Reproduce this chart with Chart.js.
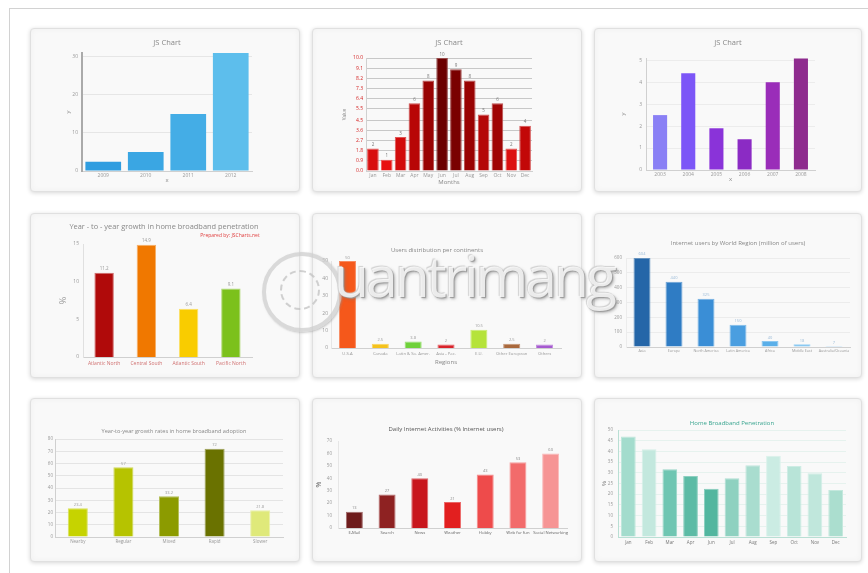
<!DOCTYPE html>
<html lang="en">
<head>
<meta charset="UTF-8">
<title>Bar charts</title>
<script src="https://cdn.jsdelivr.net/npm/chart.js"></script>
<style>
    body {
        margin: 0;
        background: #fff;
        font-family: 'Open Sans', Arial, sans-serif;
        width: 868px;
        height: 573px;
        overflow: hidden;
        position: relative;
    }
    .frame {
        position: absolute;
        left: 9px; top: 8px;
        width: 900px; height: 600px;
        border-left: 1px solid #d2d2d2;
        border-top: 1px solid #d2d2d2;
    }
    .card {
        position: absolute;
        background: #f9f9f9;
        border: 1px solid #e0e0e0;
        border-radius: 4px;
        box-shadow: 0 1px 4px rgba(0,0,0,0.16), inset 0 0 6px rgba(0,0,0,0.04);
        box-sizing: border-box;
        overflow: hidden;
    }
    .card canvas { position: absolute; left: 0; top: 0; }
    .ttl {
        position: absolute;
        white-space: nowrap;
        transform: translateX(-50%);
        color: #888;
    }
    .mark {
        position: absolute;
        pointer-events: none;
    }
    .mark .ring {
        position: absolute;
        left: 262px; top: 252px;
        width: 72px; height: 72px;
        border-radius: 50%;
        border: 4px solid rgba(205,205,205,0.75);
        box-shadow: 1px 1px 2px rgba(150,150,150,0.5);
    }
    .mark .ring2 {
        position: absolute;
        left: 280px; top: 270px;
        width: 36px; height: 36px;
        border-radius: 50%;
        border: 2px dashed rgba(190,190,190,0.7);
    }
    .mark .word {
        position: absolute;
        left: 334px; top: 236px;
        font-size: 57px;
        letter-spacing: -3px;
        color: rgba(255,255,255,0.8);
        text-shadow: 1px 1px 1px #9a9a9a, -1px -1px 1px #d0d0d0, 2px 2px 3px rgba(120,120,120,0.5);
    }
</style>
</head>
<body>
<div class="frame"></div>

<div class="card" id="c1" style="left:30px;top:28px;width:270px;height:164px"></div>
<div class="card" id="c2" style="left:312px;top:28px;width:270px;height:164px"></div>
<div class="card" id="c3" style="left:594px;top:28px;width:268px;height:164px"></div>
<div class="card" id="c4" style="left:30px;top:213px;width:270px;height:165px"></div>
<div class="card" id="c5" style="left:312px;top:213px;width:270px;height:165px"></div>
<div class="card" id="c6" style="left:594px;top:213px;width:268px;height:165px"></div>
<div class="card" id="c7" style="left:30px;top:398px;width:270px;height:164px"></div>
<div class="card" id="c8" style="left:312px;top:398px;width:270px;height:164px"></div>
<div class="card" id="c9" style="left:594px;top:398px;width:268px;height:164px"></div>

<div class="mark">
    <div class="ring"></div>
    <div class="ring2"></div>
    <div class="word">uantrimang</div>
</div>

<script>
    // ---- data ----
    const labels1 = ['2009', '2010', '2011', '2012'];
    const values1 = [2.4, 5, 15, 31];
    const ticks1 = [0, 10, 20, 30];

    const months2 = ['Jan', 'Feb', 'Mar', 'Apr', 'May', 'Jun', 'Jul', 'Aug', 'Sep', 'Oct', 'Nov', 'Dec'];
    const values2 = [2, 1, 3, 6, 8, 10, 9, 8, 5, 6, 2, 4];
    const ticks2 = [0, 0.9, 1.8, 2.7, 3.6, 4.5, 5.5, 6.4, 7.3, 8.2, 9.1, 10];

    const labels3 = ['2003', '2004', '2005', '2006', '2007', '2008'];
    const values3 = [2.5, 4.4, 1.9, 1.4, 4, 5.08];
    const ticks3 = [0, 1, 2, 3, 4, 5];

    const regions4 = ['Atlantic North', 'Central South', 'Atlantic South', 'Pacific North'];
    const values4 = [11.2, 14.9, 6.4, 9.1];
    const ticks4 = [0, 5, 10, 15];

    const regions5 = ['U.S.A', 'Canada', 'Latin & So. Amer.', 'Asia - Pac.', 'E.U.', 'Other European', 'Others'];
    const values5 = [50, 2.5, 3.8, 2, 10.5, 2.5, 2];
    const ticks5 = [0, 10, 20, 30, 40, 50];

    const regions6 = ['Asia', 'Europe', 'North America', 'Latin America', 'Africa', 'Middle East', 'Australia/Oceania'];
    const values6 = [604, 440, 325, 150, 40, 18, 7];
    const ticks6 = [0, 100, 200, 300, 400, 500, 600];

    const groups7 = ['Nearby', 'Regular', 'Mixed', 'Rapid', 'Slower'];
    const values7 = [23.4, 57, 33.2, 72, 21.8];
    const ticks7 = [0, 10, 20, 30, 40, 50, 60, 70, 80];

    const activities8 = ['E-Mail', 'Search', 'News', 'Weather', 'Hobby', 'Web for fun', 'Social Networking'];
    const values8 = [13, 27, 40, 21, 43, 53, 60];
    const ticks8 = [0, 10, 20, 30, 40, 50, 60, 70];

    const months9 = ['Jan', 'Feb', 'Mar', 'Apr', 'Jun', 'Jul', 'Aug', 'Sep', 'Oct', 'Nov', 'Dec'];
    const values9 = [47, 41, 31.7, 28.5, 22.5, 27.5, 33.5, 38, 33.2, 29.8, 22];
    const ticks9 = [0, 5, 10, 15, 20, 25, 30, 35, 40, 45, 50];

    // ---- colours ----
    const colors1 = ['#2f9de0', '#3aa6e3', '#44ade6', '#5dbeec'];
    const colors2 = ['#d80f0f', '#e81111', '#d20c0c', '#b80606', '#990303', '#6c0000', '#7a0000', '#990303', '#b40808', '#a00505', '#dc1010', '#c20808'];
    const colors3 = ['#8a80f5', '#7c56f7', '#8a33d9', '#8b2bc4', '#9a2db9', '#8e2b8e'];
    const colors4 = ['#b00a0a', '#f07800', '#f9cc00', '#7cc11c'];
    const colors5 = ['#f5581b', '#f5c21b', '#6fd13a', '#d9232a', '#b5e33a', '#a9683c', '#a65ad0'];
    const colors6 = ['#2566a8', '#2f7cc4', '#3a8ed6', '#4a9ee0', '#5aafe9', '#6ebdf0', '#86c9f3'];
    const colors7 = ['#c6d300', '#b6c300', '#8c9b00', '#6a7200', '#dfe97a'];
    const colors8 = ['#6e1c1c', '#8e2222', '#c8161d', '#e21f1f', '#ee4b4b', '#f26b6b', '#f69494'];
    const colors9 = ['#a3dccd', '#c3e8de', '#6fc6b2', '#5cbba5', '#52b69f', '#8ed1c0', '#a9ddcf', '#cbece3', '#b8e4d8', '#c0e7dc', '#abdecf'];

    const FONT = "'Open Sans', Arial, sans-serif";
    Chart.defaults.font.family = FONT;
    Chart.defaults.font.size = 5.5;
    Chart.defaults.color = '#999';

    function lighten(hex, k) {
        const n = parseInt(hex.slice(1), 16);
        const ch = [n >> 16, (n >> 8) & 255, n & 255].map(c => Math.round(c + (255 - c) * k));
        return `rgb(${ch.join(',')})`;
    }

    // small value text above each bar
    const valueLabels = {
        id: 'valueLabels',
        afterDatasetsDraw(chart, args, opts) {
            if (!opts.show) return;
            const ctx = chart.ctx;
            const ds = chart.data.datasets[0];
            ctx.save();
            ctx.font = `${opts.size || 5}px ${FONT}`;
            ctx.fillStyle = opts.color || '#888';
            ctx.textAlign = 'center';
            ctx.textBaseline = 'bottom';
            chart.getDatasetMeta(0).data.forEach((bar, i) => {
                ctx.fillText(ds.data[i], bar.x, bar.y - 1.5);
            });
            ctx.restore();
        }
    };

    function addTitle(card, t) {
        const d = document.createElement('div');
        d.className = 'ttl';
        d.textContent = t.text;
        d.style.left = t.x + 'px';
        d.style.top = (t.y - t.size * 0.6) + 'px';
        d.style.fontSize = t.size + 'px';
        d.style.lineHeight = (t.size * 1.2) + 'px';
        if (t.color) d.style.color = t.color;
        card.appendChild(d);
    }

    function drawBars(id, p) {
        const card = document.getElementById(id);
        const W = card.clientWidth, H = card.clientHeight;
        const cv = document.createElement('canvas');
        cv.width = W; cv.height = H;
        card.appendChild(cv);
        (p.titles || []).forEach(t => addTitle(card, t));
        const a = p.area;
        new Chart(cv, {
            type: 'bar',
            data: {
                labels: p.labels,
                datasets: [{
                    data: p.values,
                    backgroundColor: p.colors,
                    borderColor: p.colors.map(c => lighten(c, p.borderLight ?? 0.35)),
                    borderWidth: p.bw ?? 1,
                    borderSkipped: 'bottom',
                    barPercentage: p.bar,
                    categoryPercentage: 1
                }]
            },
            options: {
                responsive: false,
                animation: false,
                events: [],
                layout: { padding: { left: 0, top: a.t, right: W - a.r, bottom: 0 } },
                plugins: {
                    legend: { display: false },
                    tooltip: { enabled: false },
                    valueLabels: p.vl || {}
                },
                scales: {
                    x: {
                        afterFit: s => { s.height = H - a.b; },
                        grid: { display: false, drawTicks: false },
                        border: { display: true, color: p.xBorder || '#d0d0d0', width: 1 },
                        ticks: {
                            autoSkip: false, maxRotation: 0, minRotation: 0,
                            padding: p.xPad ?? 1.5,
                            color: p.xColor || '#999',
                            font: { size: p.xSize || 5 }
                        },
                        title: p.xTitle ? {
                            display: true, text: p.xTitle.text, color: '#888',
                            font: { size: p.xTitle.size || 6 },
                            padding: { top: 0, bottom: p.xTitle.pad }
                        } : { display: false }
                    },
                    y: {
                        min: p.ticks[0],
                        max: p.max ?? p.ticks[p.ticks.length - 1],
                        afterFit: s => { s.width = a.l; },
                        afterBuildTicks: s => { s.ticks = p.ticks.map(v => ({ value: v })); },
                        grid: {
                            display: p.grid !== false,
                            color: p.gridColor || '#e6e6e6',
                            drawTicks: false
                        },
                        border: { display: true, color: p.yBorder || '#d0d0d0', width: p.yBorderW || 1 },
                        ticks: {
                            padding: p.yPad ?? 4,
                            color: p.yColor || '#999',
                            font: { size: p.ySize || 5 },
                            callback: p.yFmt || (v => v)
                        },
                        title: p.yTitle ? {
                            display: true, text: p.yTitle.text, color: p.yTitle.color || '#888',
                            font: { size: p.yTitle.size || 6 },
                            padding: { top: p.yTitle.pad, bottom: 0 }
                        } : { display: false }
                    }
                }
            },
            plugins: [valueLabels]
        });
    }

    // 1 - blue
    drawBars('c1', {
        labels: labels1, values: values1, colors: colors1, ticks: ticks1, max: 31,
        area: { l: 51, t: 24, r: 221, b: 142 }, bar: 0.84, bw: 0,
        yBorder: '#aaa', yBorderW: 2,
        titles: [{ text: 'JS Chart', x: 136, y: 13, size: 7.5 }],
        xTitle: { text: 'x', pad: 7.5 }, yTitle: { text: 'y', pad: 34 }
    });

    // 2 - red months
    drawBars('c2', {
        labels: months2, values: values2, colors: colors2, ticks: ticks2,
        area: { l: 53, t: 29, r: 219, b: 142 }, bar: 0.84, borderLight: 0.3,
        gridColor: '#c8c8c8', yColor: '#d42020', yPad: 3,
        yFmt: v => v.toFixed(1),
        titles: [{ text: 'JS Chart', x: 136, y: 13, size: 7.5 }],
        xTitle: { text: 'Months', pad: 5 }, yTitle: { text: 'Value', pad: 29, size: 4.5 },
        vl: { show: true, size: 4.5, color: '#777' }
    });

    // 3 - purple
    drawBars('c3', {
        labels: labels3, values: values3, colors: colors3, ticks: ticks3, max: 5.1,
        area: { l: 51, t: 29, r: 220, b: 141 }, bar: 0.5, bw: 0,
        gridColor: '#ececec', yPad: 4,
        titles: [{ text: 'JS Chart', x: 133, y: 13, size: 7.5 }],
        xTitle: { text: 'x', pad: 8 }, yTitle: { text: 'y', pad: 25 }
    });

    // 4 - broadband growth
    drawBars('c4', {
        labels: regions4, values: values4, colors: colors4, ticks: ticks4,
        area: { l: 52, t: 30, r: 221, b: 143 }, bar: 0.46, borderLight: 0.4,
        grid: false, yBorder: '#e0e0e0', xColor: '#d07070', xSize: 5, xPad: 4, yPad: 4,
        titles: [
            { text: 'Year - to - year growth in home broadband penetration', x: 133, y: 12, size: 7.4 },
            { text: 'Prepared by: JSCharts.net', x: 199, y: 21, size: 5, color: '#e04040' }
        ],
        yTitle: { text: '%', pad: 27, size: 9, color: '#999' },
        vl: { show: true, size: 4.5, color: '#999' }
    });

    // 5 - users per region
    drawBars('c5', {
        labels: regions5, values: values5, colors: colors5, ticks: ticks5,
        area: { l: 18, t: 47, r: 248, b: 134 }, bar: 0.52, borderLight: 0.3,
        grid: false, yBorder: '#e6e6e6', xSize: 4.2, xPad: 3, yPad: 3,
        titles: [{ text: 'Users distribution per continents', x: 124, y: 37, size: 6 }],
        xTitle: { text: 'Regions', pad: 11 },
        vl: { show: true, size: 4, color: '#999' }
    });

    // 6 - internet users by region
    drawBars('c6', {
        labels: regions6, values: values6, colors: colors6, ticks: ticks6,
        area: { l: 31, t: 44, r: 255, b: 133 }, bar: 0.53, borderLight: 0.3,
        gridColor: '#ececec', yBorder: '#ececec', xSize: 3.7, xPad: 2, yPad: 4, ySize: 4.5,
        titles: [{ text: 'Internet users by World Region (million of users)', x: 143, y: 30, size: 6 }],
        vl: { show: true, size: 4, color: '#9bbbd8' }
    });

    // 7 - growth rates, olive
    drawBars('c7', {
        labels: groups7, values: values7, colors: colors7, ticks: ticks7,
        area: { l: 24, t: 40, r: 252, b: 138 }, bar: 0.44, borderLight: 0.35,
        gridColor: '#e4e4e4', xSize: 4.5, xPad: 2, yPad: 2, ySize: 4.5,
        titles: [{ text: 'Year-to-year growth rates in home broadband adoption', x: 143, y: 32, size: 5.6 }],
        vl: { show: true, size: 4, color: '#999' }
    });

    // 8 - daily activities
    drawBars('c8', {
        labels: activities8, values: values8, colors: colors8, ticks: ticks8,
        area: { l: 25, t: 42, r: 254, b: 129 }, bar: 0.52, borderLight: 0.35,
        grid: false, yBorder: '#e6e6e6', xColor: '#666', xSize: 4.2, xPad: 2.5, yPad: 6, ySize: 4.5,
        titles: [{ text: 'Daily Internet Activities (% Internet users)', x: 133, y: 31, size: 6, color: '#555' }],
        yTitle: { text: '%', pad: 2, size: 7, color: '#666' },
        vl: { show: true, size: 4, color: '#888' }
    });

    // 9 - teal broadband penetration
    drawBars('c9', {
        labels: months9, values: values9, colors: colors9, ticks: ticks9,
        area: { l: 23, t: 31, r: 251, b: 138 }, bar: 0.71, borderLight: 0.3,
        gridColor: '#e6f2ee', yBorder: '#b9dfd4', xBorder: '#b9dfd4', xColor: '#777', xSize: 4.5, xPad: 3, yPad: 5, ySize: 4.5,
        titles: [{ text: 'Home Broadband Penetration', x: 137, y: 25, size: 6, color: '#3aa590' }],
        yTitle: { text: '%', pad: 6, size: 6, color: '#777' }
    });
</script>
</body>
</html>
